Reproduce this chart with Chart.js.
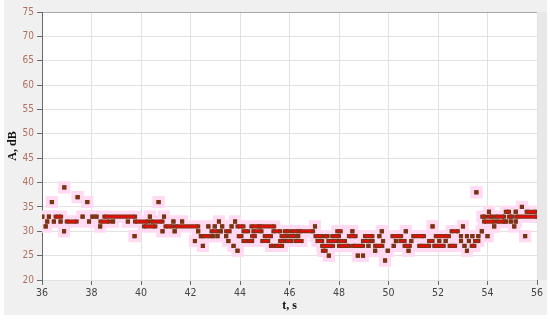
<!DOCTYPE html>
<html><head><meta charset="utf-8">
<script src="https://cdn.jsdelivr.net/npm/chart.js@4"></script>
<style>html,body{margin:0;padding:0;background:#fff;}#wrap{width:550px;height:322px;}</style>
</head><body><div id="wrap"><canvas id="c" width="550" height="322"></canvas></div>
<script>
// tick labels
const xTicks = [36,38,40,42,44,46,48,50,52,54,56];
const yTicks = [20,25,30,35,40,45,50,55,60,65,70,75];
// measured level segments: start time (s), end time (s), level (dB); start==end is a single sample
const segStart = [36.01,36.15,36.21,36.28,36.40,36.48,36.55,36.75,36.89,36.90,37.00,37.44,37.64,37.83,37.90,38.04,38.20,38.35,38.36,38.52,38.87,39.47,39.74,39.76,40.12,40.36,40.41,40.71,40.87,40.93,40.99,41.31,41.36,41.39,41.66,42.18,42.31,42.42,42.50,42.50,42.72,42.85,42.90,42.98,43.09,43.15,43.23,43.28,43.44,43.44,43.53,43.66,43.74,43.80,43.90,43.90,43.95,44.14,44.14,44.38,44.46,44.49,44.54,44.81,44.90,45.00,45.25,45.35,45.46,45.62,45.68,45.81,45.89,46.00,46.11,46.24,46.35,46.43,47.03,47.05,47.13,47.32,47.35,47.43,47.57,47.59,47.73,47.93,48.00,48.00,48.40,48.54,48.57,48.76,48.97,48.97,49.05,49.19,49.35,49.46,49.46,49.63,49.73,49.78,49.86,49.97,50.16,50.21,50.30,50.48,50.65,50.70,50.81,50.92,51.00,51.24,51.64,51.78,51.85,51.91,52.05,52.31,52.47,52.55,52.93,52.93,53.01,53.07,53.17,53.17,53.25,53.36,53.39,53.50,53.55,53.63,53.77,53.79,53.86,54.00,54.06,54.06,54.27,54.33,54.40,54.74,54.74,54.87,54.94,55.08,55.14,55.14,55.17,55.39,55.52,55.58];
const segEnd   = [36.01,36.15,36.21,36.28,36.40,36.48,36.77,36.75,36.89,36.90,37.40,37.44,37.64,37.83,37.90,38.04,38.20,38.35,38.71,39.76,38.87,39.47,39.74,40.28,40.58,40.36,40.87,40.71,40.87,40.93,41.26,41.31,41.36,42.31,41.66,42.18,42.31,42.42,42.50,42.77,42.72,43.09,42.90,42.98,43.09,43.15,43.23,43.28,43.58,43.44,43.53,43.66,43.74,43.80,43.90,44.14,44.06,44.33,44.27,44.49,44.76,44.60,44.87,45.38,45.14,45.25,45.33,45.62,45.70,45.76,45.87,45.97,46.06,46.22,46.33,46.49,46.35,46.95,47.03,47.30,47.32,47.76,47.46,47.54,47.89,47.59,48.00,48.07,48.40,48.24,48.67,48.54,48.97,48.76,48.97,49.24,49.35,49.19,49.35,49.46,49.75,49.63,49.73,49.78,49.86,49.97,50.51,50.21,50.30,50.65,50.86,50.70,50.81,50.92,51.43,51.64,51.78,51.78,52.23,52.44,52.05,52.31,52.69,52.80,52.93,52.93,53.01,53.07,53.17,53.17,53.25,53.47,53.39,53.63,53.55,53.63,53.77,53.90,54.27,54.00,54.06,54.20,54.27,54.67,54.67,54.74,54.87,55.01,54.94,55.08,55.14,55.14,56.00,55.39,55.52,55.95];
const segLevel = [33,31,32,33,36,32,33,32,30,39,32,37,33,36,32,33,33,31,32,33,32,32,29,32,31,33,32,36,30,33,31,32,30,31,32,28,30,29,27,29,31,30,29,31,29,32,30,31,30,29,28,31,27,32,26,31,29,30,28,28,31,29,30,31,28,29,27,30,27,28,29,30,28,29,30,28,29,30,31,29,28,27,26,29,28,25,29,30,27,28,29,30,27,25,25,28,29,27,28,26,27,29,30,28,24,26,29,27,28,28,27,30,26,28,29,27,28,31,27,29,28,28,27,30,29,28,31,27,29,26,28,27,29,28,38,29,30,33,32,29,34,33,31,33,32,32,34,33,32,31,34,32,33,35,29,34];

const allPts = [], runPts = [];
for (let i = 0; i < segLevel.length; i++) {
  allPts.push({x: segStart[i], y: segLevel[i]}, {x: segEnd[i], y: segLevel[i]}, {x: segEnd[i], y: null});
  if (segEnd[i] > segStart[i]) runPts.push({x: segStart[i], y: segLevel[i]}, {x: segEnd[i], y: segLevel[i]}, {x: segEnd[i], y: null});
}

const panelBg = {
  id: 'panelBg',
  beforeDraw(chart) {
    const {ctx, chartArea: a} = chart;
    ctx.save();
    ctx.fillStyle = '#ffffff'; ctx.fillRect(0, 0, chart.width, chart.height);
    ctx.fillStyle = '#f0f0f0'; ctx.fillRect(4, 0, 543, 315);
    ctx.fillStyle = '#e8e8e8'; ctx.fillRect(a.right, a.top, 547 - a.right, a.bottom - a.top);
    ctx.fillStyle = '#ffffff'; ctx.fillRect(a.left, a.top, a.right - a.left, a.bottom - a.top);
    ctx.restore();
  }
};

const tickFont = "'Liberation Sans Narrow','DejaVu Sans Condensed','Liberation Sans',sans-serif";
const titleFont = "'Liberation Serif','DejaVu Serif',serif";

new Chart(document.getElementById('c'), {
  type: 'scatter',
  data: { datasets: [
    { data: runPts, showLine: true, borderColor: '#e60c0c', borderWidth: 2.2, pointRadius: 0, order: 1, borderCapStyle: 'butt' },
    { data: allPts, showLine: true, borderColor: '#7a3414', borderWidth: 4.2, pointStyle: 'rect', pointRadius: 2.9, pointBorderWidth: 0, pointBackgroundColor: '#7a3414', order: 2, borderCapStyle: 'butt' },
    { data: allPts, showLine: true, borderColor: '#ffdaf2', borderWidth: 12, pointStyle: 'rect', pointRadius: 8.5, pointBorderWidth: 0, pointBackgroundColor: '#ffdaf2', order: 3, borderCapStyle: 'butt' }
  ]},
  options: {
    responsive: false, animation: false, events: [],
    layout: { padding: { left: 0, top: 12, right: 13, bottom: 0 } },
    plugins: { legend: { display: false }, tooltip: { enabled: false } },
    scales: {
      x: {
        type: 'linear', min: xTicks[0], max: xTicks[xTicks.length - 1],
        afterBuildTicks: s => { s.ticks = xTicks.map(v => ({value: v})); },
        afterFit: s => { s.height = 42; },
        border: { display: false },
        grid: { color: '#e2e2e2', tickColor: '#666', tickLength: 5, lineWidth: 1 },
        ticks: { color: '#444', font: { family: tickFont, size: 10.5 }, padding: 2, maxRotation: 0 },
        title: { display: true, text: 't, s', color: '#111', font: { family: titleFont, size: 12, weight: 'bold' }, padding: { top: 2, bottom: 9 } }
      },
      y: {
        type: 'linear', min: yTicks[0], max: yTicks[yTicks.length - 1],
        afterBuildTicks: s => { s.ticks = yTicks.map(v => ({value: v})); },
        afterFit: s => { s.width = 42; },
        border: { display: true, color: '#6a6a6a', width: 1 },
        grid: { color: c => (c.tick && c.tick.value === 75 ? '#a8a8a8' : '#e2e2e2'), tickColor: '#6a6a6a', tickLength: 5, lineWidth: 1 },
        ticks: { color: '#b07060', font: { family: tickFont, size: 10 }, padding: 3 },
        title: { display: true, text: 'A, dB', color: '#111', font: { family: titleFont, size: 12, weight: 'bold' }, padding: { top: 6, bottom: 2 } }
      }
    }
  },
  plugins: [panelBg]
});
</script></body></html>
